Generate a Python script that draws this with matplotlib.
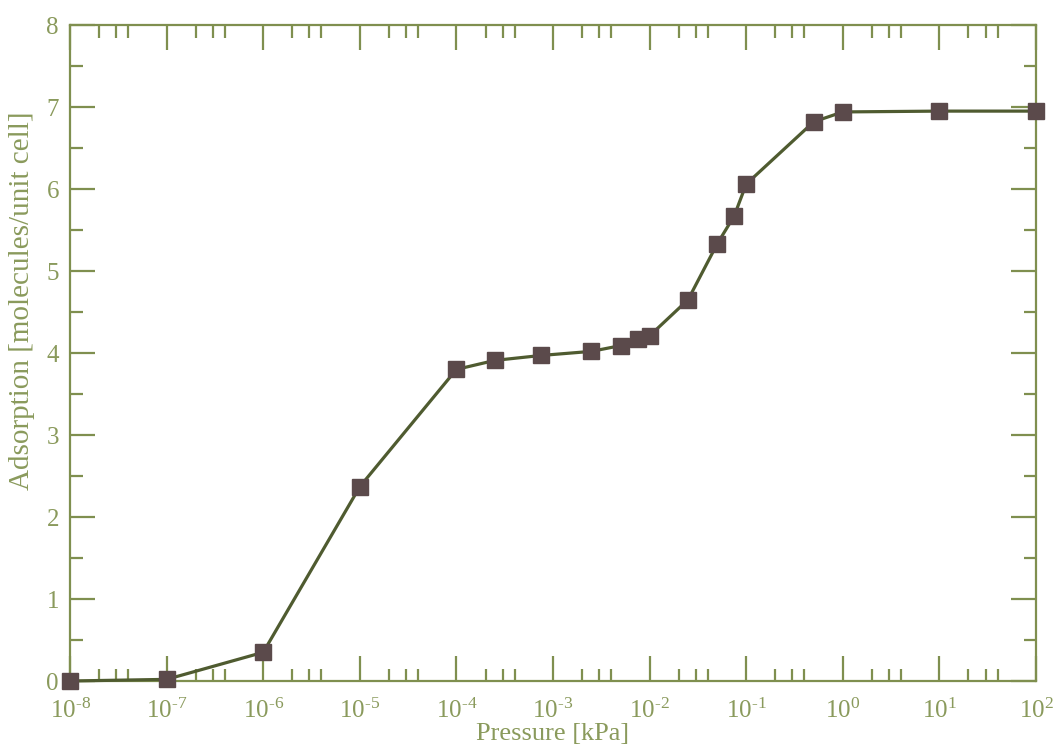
import matplotlib
matplotlib.use("Agg")
import matplotlib.pyplot as plt
from matplotlib.ticker import LogLocator, MultipleLocator, FixedLocator, NullFormatter

pressure = [1e-8, 1e-7, 1e-6, 1e-5, 1e-4, 2.5e-4, 7.5e-4, 2.5e-3, 5e-3, 7.5e-3,
            1e-2, 2.5e-2, 5e-2, 7.5e-2, 1e-1, 5e-1, 1.0, 10.0, 100.0]
adsorption = [0.0, 0.02, 0.35, 2.37, 3.80, 3.91, 3.97, 4.02, 4.09, 4.17,
              4.21, 4.65, 5.33, 5.67, 6.06, 6.82, 6.94, 6.95, 6.95]
xtick_exps = [-8, -7, -6, -5, -4, -3, -2, -1, 0, 1, 2]
yticks = [0, 1, 2, 3, 4, 5, 6, 7, 8]

plt.rcParams['font.family'] = ['Liberation Serif', 'DejaVu Serif']
plt.rcParams['mathtext.fontset'] = 'custom'
plt.rcParams['mathtext.rm'] = 'Liberation Serif'
plt.rcParams['mathtext.it'] = 'Liberation Serif'

axis_col = '#7f8f4f'
text_col = '#8a9a5c'
line_col = '#4f5b30'
mark_col = '#5b4a4b'

fig = plt.figure(figsize=(10.55, 7.51), dpi=100)
ax = fig.add_axes([0.0664, 0.0932, 0.9156, 0.8735])

ax.plot(pressure, adsorption, color=line_col, lw=2.3, marker='s', markersize=12,
        markerfacecolor=mark_col, markeredgecolor=mark_col, zorder=3, clip_on=False)

ax.set_xscale('log')
ax.set_xlim(1e-8, 1e2)
ax.set_ylim(0, 8)


def exp_label(e):
    s = str(abs(e))
    if e < 0:
        s = '\u2010' + s
    return r'$\mathregular{10^{%s}}$' % s


ax.xaxis.set_major_locator(FixedLocator([10.0**e for e in xtick_exps]))
ax.set_xticklabels([exp_label(e) for e in xtick_exps])
ax.xaxis.set_minor_locator(LogLocator(base=10, subs=[2, 3, 4], numticks=50))
ax.xaxis.set_minor_formatter(NullFormatter())
ax.set_yticks(yticks)
ax.yaxis.set_minor_locator(MultipleLocator(0.5))

for s in ax.spines.values():
    s.set_color(axis_col)
    s.set_linewidth(1.6)

ax.tick_params(which='both', direction='in', top=True, right=True, colors=axis_col,
               labelcolor=text_col, labelsize=18)
ax.tick_params(which='major', length=18, width=1.6)
ax.tick_params(which='minor', length=9, width=1.6)
ax.tick_params(axis='x', which='major', pad=13)
ax.tick_params(axis='y', which='major', pad=8)

ax.set_xlabel('Pressure [kPa]', color=text_col, fontsize=19, labelpad=0)
ax.set_ylabel('Adsorption [molecules/unit cell]', color=text_col, fontsize=21)
ax.yaxis.set_label_coords(-0.036, 0.58)

fig.savefig('out.png', dpi=100, facecolor='white')
